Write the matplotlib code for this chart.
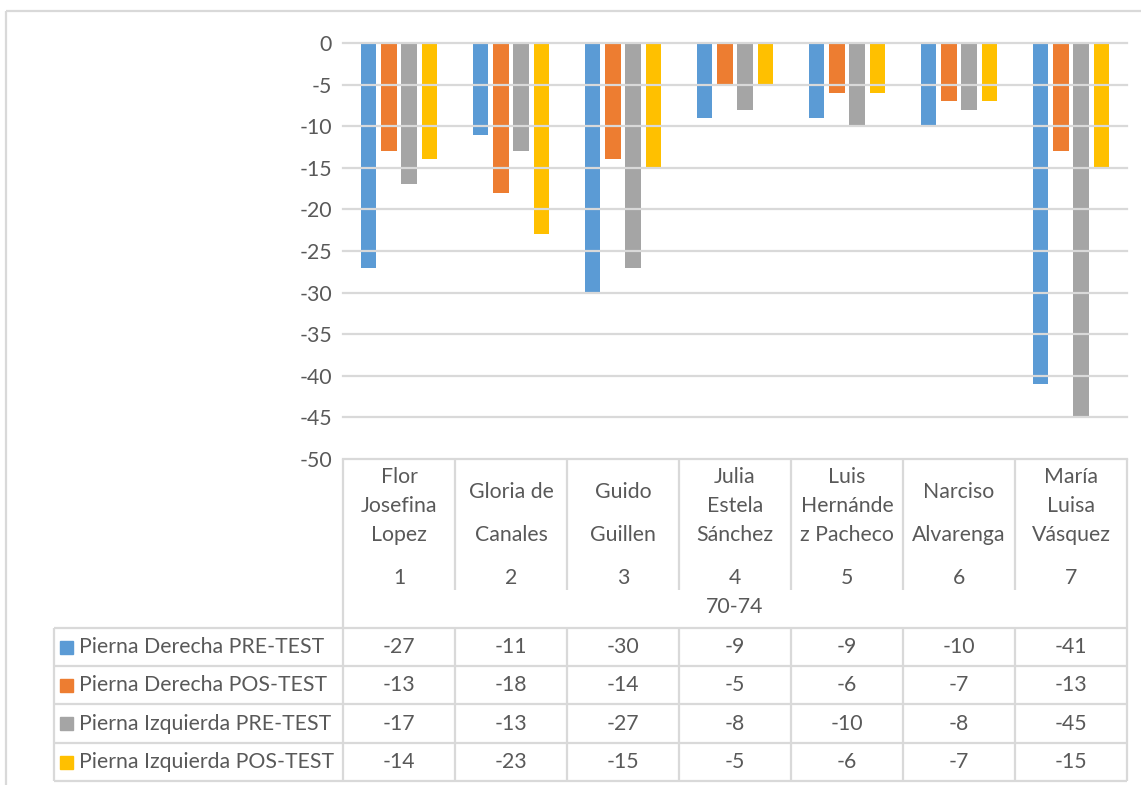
import matplotlib
matplotlib.use("Agg")
import matplotlib.pyplot as plt
from matplotlib.patches import Rectangle

# ---- data ----
nombres = ["Flor\nJosefina\nLopez", "Gloria de\nCanales", "Guido\nGuillen",
           "Julia\nEstela\nSánchez", "Luis\nHernánde\nz Pacheco",
           "Narciso\nAlvarenga", "María\nLuisa\nVásquez"]
numeros = ["1", "2", "3", "4", "5", "6", "7"]
grupo = "70-74"
series = ["Pierna Derecha PRE-TEST", "Pierna Derecha POS-TEST",
          "Pierna Izquierda PRE-TEST", "Pierna Izquierda POS-TEST"]
der_pre = [-27, -11, -30, -9, -9, -10, -41]
der_pos = [-13, -18, -14, -5, -6, -7, -13]
izq_pre = [-17, -13, -27, -8, -10, -8, -45]
izq_pos = [-14, -23, -15, -5, -6, -7, -15]
valores = [der_pre, der_pos, izq_pre, izq_pos]
colores = ["#5B9BD5", "#ED7D31", "#A5A5A5", "#FFC000"]
yticks = list(range(0, -55, -5))

# ---- style ----
W, H = 1141, 785
TXT = "#595959"
GRID = "#D9D9D9"
FONT = "Lato"
FS = 15.3
plt.rcParams["font.family"] = [FONT, "DejaVu Sans"]

fig = plt.figure(figsize=(W / 100, H / 100), dpi=100)

# pixel geometry of the plot area
x0, x1 = 343, 1127
y_top, y_bot = 43, 459
ax = fig.add_axes([x0 / W, 1 - y_bot / H, (x1 - x0) / W, (y_bot - y_top) / H])
n = len(nombres)
ax.set_xlim(-0.5, n - 0.5)
ax.set_ylim(-50, 0)

pitch = 0.18
width = 0.138
for k, (vals, col) in enumerate(zip(valores, colores)):
    off = (k - 1.5) * pitch
    ax.bar([i + off for i in range(n)], vals, width=width, color=col, zorder=2)

for t in yticks:
    ax.axhline(t, color=GRID, lw=1.6, zorder=3, clip_on=False)

ax.set_yticks(yticks)
ax.set_yticklabels([str(t) for t in yticks], fontsize=FS, color=TXT)
ax.tick_params(axis="y", length=0, pad=8)
ax.set_xticks([])
for s in ax.spines.values():
    s.set_visible(False)
ax.patch.set_alpha(0)

# ---- overlay in pixel coordinates for frame, table and legend ----
ov = fig.add_axes([0, 0, 1, 1], zorder=-1)
ov.set_xlim(0, W)
ov.set_ylim(H, 0)
ov.axis("off")

def line(xs, ys):
    ov.plot(xs, ys, color=GRID, lw=1.6, solid_capstyle="butt")

# outer chart frame
line([6, 6], [11, H])
line([6, W], [11, 11])

cols = [x0 + (x1 - x0) * i / n for i in range(n + 1)]
rows = [628, 666, 704, 743, 781]
tab_left = 54

# category header
line([x0, x0], [y_bot, rows[-1]])
line([x1, x1], [y_bot, rows[-1]])
for cx in cols[1:-1]:
    line([cx, cx], [y_bot, 590])
    line([cx, cx], [rows[0], rows[-1]])
for ry in rows:
    line([tab_left, x1], [ry, ry])
line([tab_left, tab_left], [rows[0], rows[-1]])

for i, (nom, num) in enumerate(zip(nombres, numeros)):
    cx = (cols[i] + cols[i + 1]) / 2
    partes = nom.split("\n")
    ys = [477, 506, 535] if len(partes) == 3 else [492, 535]
    for p, yy in zip(partes, ys):
        ov.text(cx, yy, p, ha="center", va="center", fontsize=FS, color=TXT)
    ov.text(cx, 578, num, ha="center", va="center", fontsize=FS, color=TXT)
ov.text((x0 + x1) / 2, 607, grupo, ha="center", va="center", fontsize=FS, color=TXT)

# data table with legend keys
for r, (nombre, vals, col) in enumerate(zip(series, valores, colores)):
    yc = (rows[r] + rows[r + 1]) / 2
    ov.add_patch(Rectangle((60, yc - 6.5), 13, 13, color=col))
    ov.text(79, yc, nombre, ha="left", va="center", fontsize=FS, color=TXT)
    for i, v in enumerate(vals):
        cx = (cols[i] + cols[i + 1]) / 2
        ov.text(cx, yc, str(v), ha="center", va="center", fontsize=FS, color=TXT)

fig.savefig("out.png", dpi=100, facecolor="white")
